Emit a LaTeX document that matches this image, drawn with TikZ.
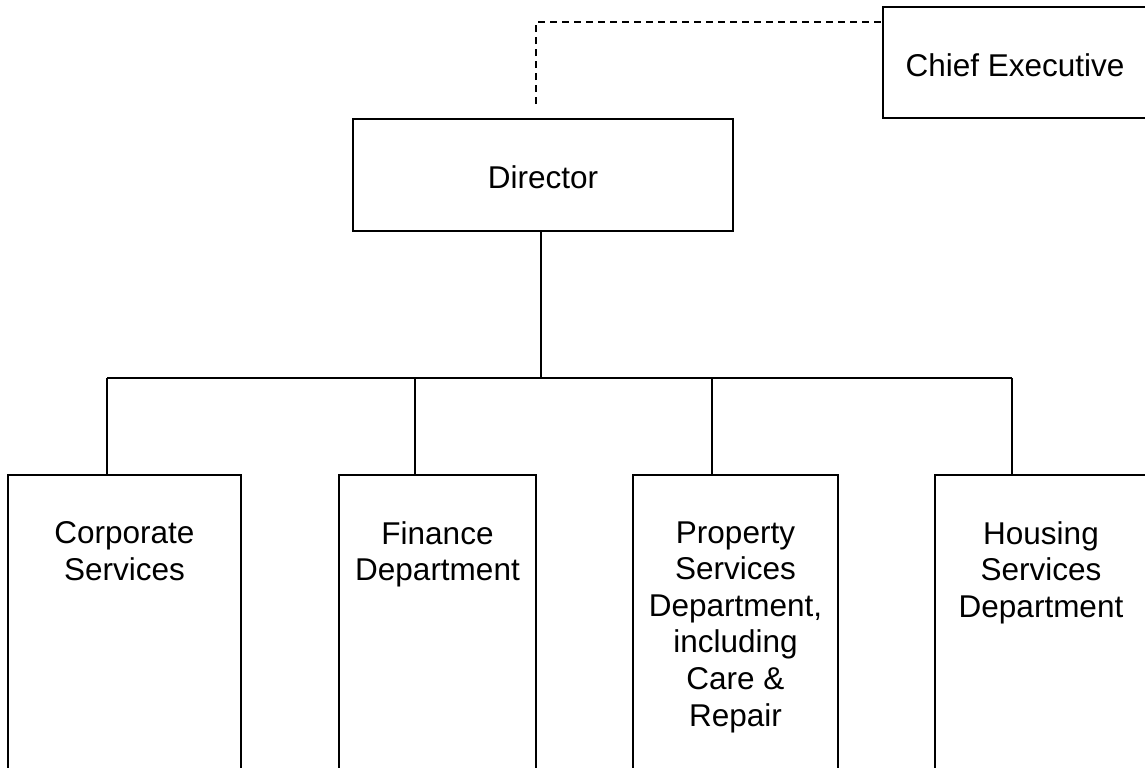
\documentclass[tikz,border=0pt]{standalone}
\usepackage{fontspec}
\setmainfont{Liberation Sans}
\begin{document}
\begin{tikzpicture}[x=0.5pt,y=-0.5pt,
  box/.style={draw=black, line width=1.3pt, rectangle, inner sep=0pt, outer sep=0pt, anchor=north west},
  lbl/.style={inner sep=0pt, align=center, font=\fontsize{15.75pt}{18.3pt}\selectfont},
  conn/.style={draw=black, line width=0.8pt},
  dconn/.style={draw=black, line width=1.1pt, dash pattern=on 3.6pt off 2.4pt}]
\useasboundingbox (0,0) rectangle (1145,767);
% boxes
\node[box, minimum width=132pt, minimum height=55.5pt] (chief) at (883,7) {};
\node[box, minimum width=190pt, minimum height=56pt] (dir) at (353,119) {};
\node[box, minimum width=116.5pt, minimum height=160pt] (b1) at (8,475) {};
\node[box, minimum width=98.5pt, minimum height=160pt] (b2) at (339,475) {};
\node[box, minimum width=102.5pt, minimum height=160pt] (b3) at (633,475) {};
\node[box, minimum width=106pt, minimum height=160pt] (b4) at (935,475) {};
% texts
\node[lbl, anchor=base] (tchief) at (1015,76) {Chief Executive};
\node[lbl, anchor=base] (tdir) at (543,188) {Director};
\node[lbl, anchor=north] (t1) at (124.5,521) {Corporate\\Services};
\node[lbl, anchor=north] (t2) at (437.5,521) {Finance\\Department};
\node[lbl, anchor=north] (t3) at (735.5,521) {Property\\Services\\Department,\\including\\Care \&\\Repair};
\node[lbl, anchor=north] (t4) at (1041,521) {Housing\\Services\\Department};
% connector coordinates
\coordinate (dend) at (536,104);
\coordinate (dcorner) at (536,22);
\coordinate (hub) at (541,378);
\coordinate (l1) at (107,378);
\coordinate (l2) at (415,378);
\coordinate (l3) at (712,378);
\coordinate (l4) at (1012,378);
% connectors
\draw[dconn] (dend) -- (dcorner) -- (dcorner -| chief.west);
\draw[conn] (dir.south -| hub) -- (hub);
\draw[conn] (l1) -- (l4);
\draw[conn] (l1) -- (l1 |- b1.north);
\draw[conn] (l2) -- (l2 |- b2.north);
\draw[conn] (l3) -- (l3 |- b3.north);
\draw[conn] (l4) -- (l4 |- b4.north);
\end{tikzpicture}
\end{document}
